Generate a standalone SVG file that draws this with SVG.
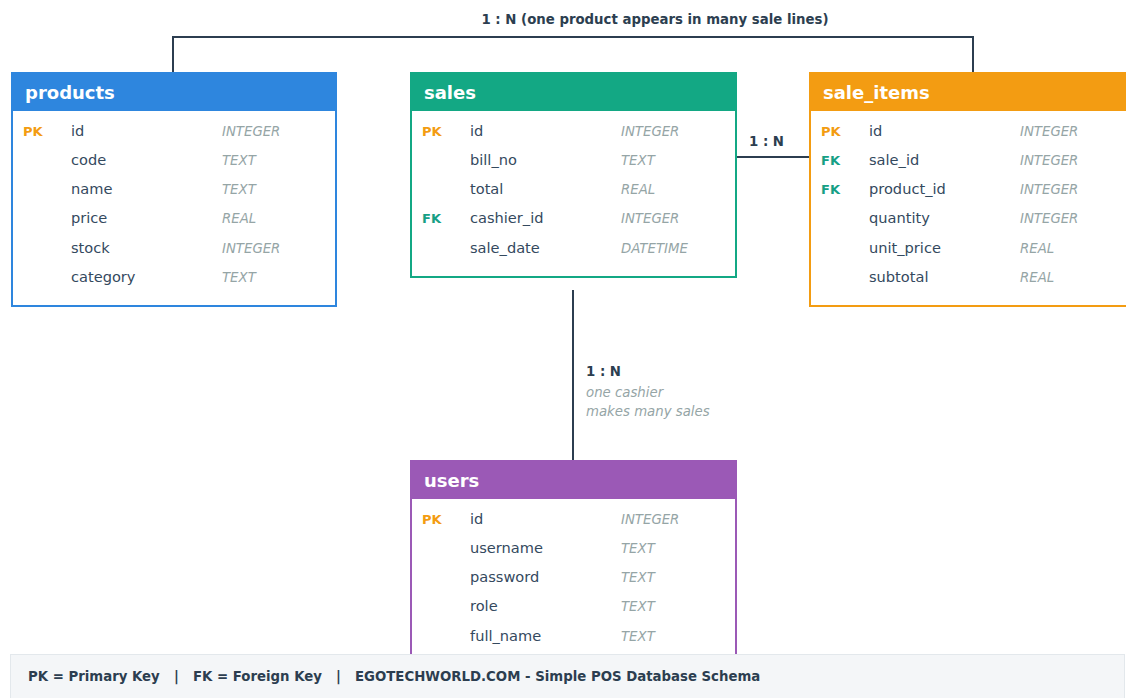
<svg xmlns="http://www.w3.org/2000/svg" width="1126" height="698" viewBox="0 0 1126 698">
<style>
.hdr{font-family:"DejaVu Sans",Verdana,sans-serif;font-weight:bold;font-size:18px;fill:#fff}
.nm{font-family:"DejaVu Sans",Verdana,sans-serif;font-size:14.6px;fill:#34495e}
.ty{font-family:"DejaVu Sans",Verdana,sans-serif;font-style:italic;font-size:13.3px;fill:#95a5a6}
.pk{font-family:"DejaVu Sans",Verdana,sans-serif;font-weight:bold;font-size:13px;fill:#f39c12}
.fk{font-family:"DejaVu Sans",Verdana,sans-serif;font-weight:bold;font-size:13px;fill:#16a085}
.lbl{font-family:"DejaVu Sans",Verdana,sans-serif;font-weight:bold;font-size:13.3px;fill:#2c3e50}
.note{font-family:"DejaVu Sans",Verdana,sans-serif;font-style:italic;font-size:13.3px;fill:#95a5a6}
.conn{fill:none;stroke:#2c3e50;stroke-width:2}
</style>
<rect width="1126" height="698" fill="#fff"/>
<g id="connectors">
<path class="conn" d="M173 72 V37 H973 V72"/>
<text class="lbl" x="655" y="24" text-anchor="middle">1 : N (one product appears in many sale lines)</text>
<path class="conn" d="M737 157 H809"/>
<text class="lbl" x="749" y="146">1 : N</text>
<path class="conn" d="M573 290 V460"/>
<text class="lbl" x="586" y="376">1 : N</text>
<text class="note" x="586" y="397">one cashier</text>
<text class="note" x="586" y="416">makes many sales</text>
</g>
<g id="products">
<rect x="12" y="73" width="324" height="233" fill="#fff" stroke="#2e86de" stroke-width="2"/>
<rect x="11" y="72" width="326" height="39" fill="#2e86de"/>
<text class="hdr" x="25" y="99">products</text>
<text class="pk" x="23" y="136">PK</text><text class="nm" x="71" y="136">id</text><text class="ty" x="222" y="136">INTEGER</text>
<text class="nm" x="71" y="165">code</text><text class="ty" x="222" y="165">TEXT</text>
<text class="nm" x="71" y="194">name</text><text class="ty" x="222" y="194">TEXT</text>
<text class="nm" x="71" y="223">price</text><text class="ty" x="222" y="223">REAL</text>
<text class="nm" x="71" y="253">stock</text><text class="ty" x="222" y="253">INTEGER</text>
<text class="nm" x="71" y="282">category</text><text class="ty" x="222" y="282">TEXT</text>
</g>
<g id="sales">
<rect x="411" y="73" width="325" height="204" fill="#fff" stroke="#13a884" stroke-width="2"/>
<rect x="410" y="72" width="327" height="39" fill="#13a884"/>
<text class="hdr" x="424" y="99">sales</text>
<text class="pk" x="422" y="136">PK</text><text class="nm" x="470" y="136">id</text><text class="ty" x="621" y="136">INTEGER</text>
<text class="nm" x="470" y="165">bill_no</text><text class="ty" x="621" y="165">TEXT</text>
<text class="nm" x="470" y="194">total</text><text class="ty" x="621" y="194">REAL</text>
<text class="fk" x="422" y="223">FK</text><text class="nm" x="470" y="223">cashier_id</text><text class="ty" x="621" y="223">INTEGER</text>
<text class="nm" x="470" y="253">sale_date</text><text class="ty" x="621" y="253">DATETIME</text>
</g>
<g id="sale_items">
<rect x="810" y="73" width="325" height="233" fill="#fff" stroke="#f39c12" stroke-width="2"/>
<rect x="809" y="72" width="327" height="39" fill="#f39c12"/>
<text class="hdr" x="823" y="99">sale_items</text>
<text class="pk" x="821" y="136">PK</text><text class="nm" x="869" y="136">id</text><text class="ty" x="1020" y="136">INTEGER</text>
<text class="fk" x="821" y="165">FK</text><text class="nm" x="869" y="165">sale_id</text><text class="ty" x="1020" y="165">INTEGER</text>
<text class="fk" x="821" y="194">FK</text><text class="nm" x="869" y="194">product_id</text><text class="ty" x="1020" y="194">INTEGER</text>
<text class="nm" x="869" y="223">quantity</text><text class="ty" x="1020" y="223">INTEGER</text>
<text class="nm" x="869" y="253">unit_price</text><text class="ty" x="1020" y="253">REAL</text>
<text class="nm" x="869" y="282">subtotal</text><text class="ty" x="1020" y="282">REAL</text>
</g>
<g id="users">
<rect x="411" y="461" width="325" height="204" fill="#fff" stroke="#9b59b6" stroke-width="2"/>
<rect x="410" y="460" width="327" height="39" fill="#9b59b6"/>
<text class="hdr" x="424" y="487">users</text>
<text class="pk" x="422" y="524">PK</text><text class="nm" x="470" y="524">id</text><text class="ty" x="621" y="524">INTEGER</text>
<text class="nm" x="470" y="553">username</text><text class="ty" x="621" y="553">TEXT</text>
<text class="nm" x="470" y="582">password</text><text class="ty" x="621" y="582">TEXT</text>
<text class="nm" x="470" y="611">role</text><text class="ty" x="621" y="611">TEXT</text>
<text class="nm" x="470" y="641">full_name</text><text class="ty" x="621" y="641">TEXT</text>
</g>
<g id="footer">
<rect x="10.5" y="654.5" width="1114" height="50" fill="#f4f6f8" stroke="#e3e8ec" stroke-width="1"/>
<text class="lbl" x="28" y="681">PK = Primary Key</text>
<text class="lbl" x="174" y="681">|</text>
<text class="lbl" x="193" y="681">FK = Foreign Key</text>
<text class="lbl" x="336" y="681">|</text>
<text class="lbl" x="355" y="681">EGOTECHWORLD.COM - Simple POS Database Schema</text>
</g>
</svg>
